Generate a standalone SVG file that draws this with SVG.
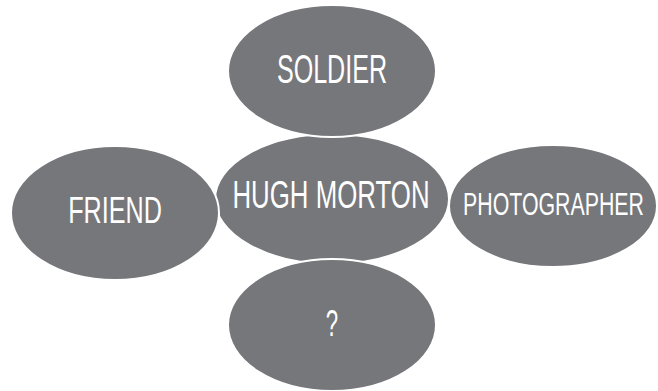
<svg xmlns="http://www.w3.org/2000/svg" width="658" height="391" viewBox="0 0 658 391">
<style>
.n{fill:#76777b;stroke:#ffffff;stroke-width:2}
.t{fill:#ffffff;font-family:"Liberation Sans",Arial,sans-serif;text-anchor:middle}
</style>
<rect width="658" height="391" fill="#ffffff"/>
<g id="connectors"></g>
<g id="center">
<ellipse class="n" cx="332" cy="199" rx="117" ry="65"/>
<text class="t" transform="translate(331,208) scale(0.68,1)" font-size="38">HUGH MORTON</text>
</g>
<g id="soldier">
<ellipse class="n" cx="332" cy="71" rx="104" ry="66"/>
<text class="t" transform="translate(332,83) scale(0.62,1)" font-size="40.5">SOLDIER</text>
</g>
<g id="question">
<ellipse class="n" cx="332" cy="325" rx="104" ry="66"/>
<text class="t" transform="translate(332,336) scale(0.6,1)" font-size="37">?</text>
</g>
<g id="friend">
<ellipse class="n" cx="115" cy="213" rx="104" ry="67"/>
<text class="t" transform="translate(115,223) scale(0.69,1)" font-size="36.5">FRIEND</text>
</g>
<g id="photographer">
<ellipse class="n" cx="553" cy="206" rx="104" ry="61"/>
<text class="t" transform="translate(553.5,215) scale(0.7,1)" font-size="30.5">PHOTOGRAPHER</text>
</g>
</svg>
